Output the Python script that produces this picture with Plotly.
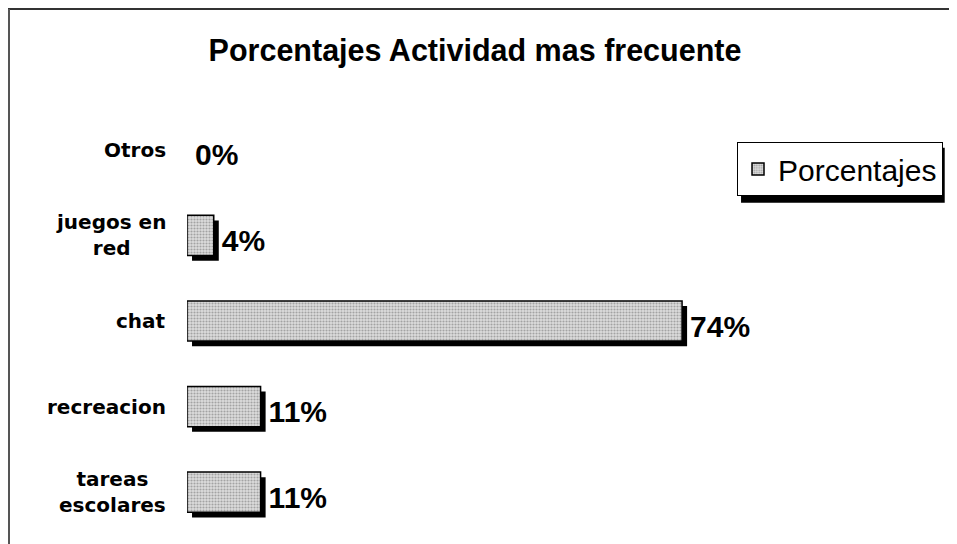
import plotly.graph_objects as go

categories = ['tareas escolares', 'recreacion', 'chat', 'juegos en red', 'Otros']
tick_labels = ['tareas<br>escolares', 'recreacion', 'chat', 'juegos en<br>red', 'Otros']
values = [11, 11, 74, 4, 0]
value_labels = ['11%', '11%', '74%', '4%', '0%']

SHADOW = 0.75  # horizontal shadow shift, in %
BAR_W = 0.47

fig = go.Figure()

# black drop shadow behind each bar
fig.add_trace(go.Bar(
    y=categories, x=values, base=SHADOW, orientation='h',
    width=BAR_W, offset=-BAR_W / 2 - 0.06,
    marker=dict(color='black', line=dict(width=0)),
    text=value_labels, textposition='outside', cliponaxis=False,
    textfont=dict(family='Arial, Liberation Sans', size=30, color='black'),
    texttemplate='<b>%{text}</b>',
    showlegend=False, hoverinfo='skip',
))

fig.add_trace(go.Bar(
    y=categories, x=values, orientation='h', name='Porcentajes',
    width=BAR_W, offset=-BAR_W / 2,
    marker=dict(
        color='#d6d6d6',
        line=dict(color='black', width=[1.5 if v > 0 else 0 for v in values]),
        pattern=dict(shape='.', fgcolor='#6a6a6a', bgcolor='#dcdcdc',
                     size=3, solidity=0.4),
    ),
))

for cat, lab in zip(categories, tick_labels):
    fig.add_annotation(
        x=-0.025, xref='paper', y=cat, yref='y', text='<b>' + lab + '</b>',
        xanchor='right', yanchor='middle', align='center', showarrow=False,
        font=dict(family='DejaVu Sans', size=20, color='black'),
    )

# outer frame (only top and left edges are visible)
fig.add_shape(type='line', xref='paper', yref='paper', x0=-179 / 760, x1=1.03,
              y0=1 + 98 / 428, y1=1 + 98 / 428, line=dict(color='#333', width=2))
fig.add_shape(type='line', xref='paper', yref='paper', x0=-178 / 760, x1=-178 / 760,
              y0=1 + 98 / 428, y1=-0.05, line=dict(color='#555', width=2))

# legend drop shadow
fig.add_shape(type='rect', xref='paper', yref='paper',
              x0=0.729, x1=0.997, y0=0.776, y1=0.905,
              fillcolor='black', line=dict(width=0), layer='below')

fig.update_layout(
    width=957, height=544,
    margin=dict(l=179, r=18, t=99, b=17),
    paper_bgcolor='white', plot_bgcolor='white',
    barmode='overlay',
    title=dict(text='<b>Porcentajes Actividad mas frecuente</b>',
               x=0.488, xanchor='center', y=0.923, yanchor='middle',
               font=dict(family='Arial, Liberation Sans', size=30.5, color='black')),
    xaxis=dict(range=[0, 113.6], visible=False),
    yaxis=dict(showticklabels=False, showgrid=False, zeroline=False,
               categoryorder='array', categoryarray=categories,
               range=[-0.5, 4.5]),
    legend=dict(x=0.7237, y=0.918, xanchor='left', yanchor='top',
                bgcolor='white', bordercolor='black', borderwidth=1,
                font=dict(family='Arial, Liberation Sans', size=30, color='black'),
                itemwidth=30),
    font=dict(family='Arial, Liberation Sans'),
)

fig.write_html('out.html')
